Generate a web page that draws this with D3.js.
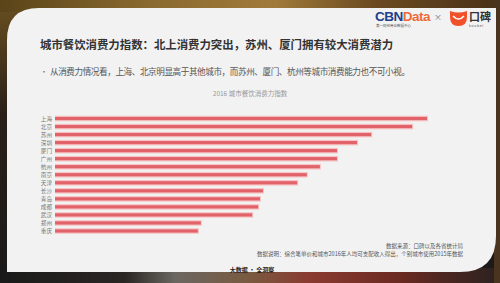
<!DOCTYPE html>
<html><head><meta charset="utf-8">
<script src="https://cdn.jsdelivr.net/npm/d3@7"></script>
<style>
html,body{margin:0;padding:0;background:#3a2c20;}
svg{display:block;font-family:"Noto Sans CJK SC","Noto Sans",sans-serif;}
</style></head>
<body>
<script>
const cities = ["上海","北京","苏州","深圳","厦门","广州","杭州","南京","天津","长沙","青岛","成都","武汉","郑州","重庆"];
const values = [100, 96, 85, 81.2, 75.8, 75.8, 71.2, 67.7, 65.1, 55.9, 55.1, 54.6, 53, 39.2, 38.4];
const title = "城市餐饮消费力指数：北上消费力突出，苏州、厦门拥有较大消费潜力";
const bullet = "从消费力情况看，上海、北京明显高于其他城市，而苏州、厦门、杭州等城市消费能力也不可小视。";
const chartTitle = "2016 城市餐饮消费力指数";
const notes = ["数据来源：口碑以及各省统计局","数据说明：综合笔单价和城市2016年人均可支配收入得出，个别城市使用2015年数据"];
const footer = "大数据 · 全洞察";

const W = 500, H = 283;
const svg = d3.select("body").append("svg").attr("width", W).attr("height", H);
const defs = svg.append("defs");

// background photo-like frame
const gTop = defs.append("linearGradient").attr("id","gtop").attr("x1",0).attr("x2",1);
[["0%","#5a4418"],["30%","#8a6a30"],["55%","#a07a3a"],["75%","#6a4a20"],["100%","#4a3018"]].forEach(s=>gTop.append("stop").attr("offset",s[0]).attr("stop-color",s[1]));
const gBot = defs.append("linearGradient").attr("id","gbot").attr("x1",0).attr("x2",1);
[["0%","#1a1a1a"],["25%","#2a2624"],["35%","#6a6660"],["50%","#7a5a40"],["62%","#8a3a30"],["80%","#6a2a22"],["100%","#2a2220"]].forEach(s=>gBot.append("stop").attr("offset",s[0]).attr("stop-color",s[1]));
const gSide = defs.append("linearGradient").attr("id","gside").attr("x1",0).attr("x2",0).attr("y1",0).attr("y2",1);
[["0%","#6a5020"],["40%","#2a2018"],["100%","#1a1a1a"]].forEach(s=>gSide.append("stop").attr("offset",s[0]).attr("stop-color",s[1]));

svg.append("rect").attr("width",W).attr("height",H).attr("fill","url(#gside)");
svg.append("rect").attr("width",W).attr("height",12).attr("fill","url(#gtop)");
svg.append("rect").attr("y",268).attr("width",W).attr("height",15).attr("fill","url(#gbot)");
svg.append("rect").attr("x",494).attr("y",0).attr("width",6).attr("height",H).attr("fill","#4a3420");

// card with rounded top-left and bottom-right corners
const cx0 = 7, cy0 = 8, cx1 = 496, cy1 = 272, r1 = 32, r2 = 36;
svg.append("path")
  .attr("d", `M${cx0},${cy0+r1} Q${cx0},${cy0} ${cx0+r1},${cy0} L${cx1},${cy0} L${cx1},${cy1-r2} Q${cx1},${cy1} ${cx1-r2},${cy1} L${cx0},${cy1} Z`)
  .attr("fill","#f2f2f2");

// logos
const logo = svg.append("g");
const cbn = logo.append("text").attr("x",375).attr("y",21).attr("font-family","Arial,'Liberation Sans',sans-serif")
  .attr("font-weight","bold").attr("font-size",13.5).attr("letter-spacing",-0.5);
cbn.append("tspan").attr("fill","#1d3f8f").text("CBN");
cbn.append("tspan").attr("fill","#ef6a3a").text("Data");
logo.append("text").attr("x",376).attr("y",27).attr("font-size",3.5).attr("fill","#555").text("第一财经商业数据中心");
logo.append("text").attr("x",438).attr("y",20).attr("text-anchor","middle").attr("font-size",8).attr("fill","#777").text("×");
logo.append("path").attr("d","M450,11 Q458.5,14 467,11 L467,17 Q467,26 458.5,26 Q450,26 450,17 Z").attr("fill","#f0502a");
logo.append("path").attr("d","M453,16 Q458.5,22 464,16").attr("fill","none").attr("stroke","#fff").attr("stroke-width",1.6);
logo.append("text").attr("x",469).attr("y",21).attr("font-size",11).attr("font-weight","bold").attr("fill","#333").text("口碑");
logo.append("text").attr("x",469).attr("y",27).attr("font-size",3.5).attr("fill","#555").attr("letter-spacing",0.6).text("koubei");

// title texts
svg.append("text").attr("x",40).attr("y",49).attr("font-size",11.4).attr("font-weight","bold").attr("fill","#333").text(title);
svg.append("text").attr("x",40).attr("y",75).attr("font-size",8).attr("fill","#777").text("•");
svg.append("text").attr("x",50).attr("y",75).attr("font-size",8.6).attr("fill","#555").attr("textLength",360).text(bullet);
svg.append("text").attr("x",250).attr("y",95.5).attr("text-anchor","middle").attr("font-size",6.5).attr("fill","#999").text(chartTitle);

// chart
const x = d3.scaleLinear().domain([0,100]).range([55,427]);
const y = d3.scaleBand().domain(cities).range([114.5,235]).paddingInner(0);
const bars = svg.append("g");
const rows = bars.selectAll("g").data(cities).join("g")
  .attr("transform", d=>`translate(0,${y(d)+y.bandwidth()/2})`);
rows.append("rect").attr("x",x(0)).attr("y",-2.8).attr("height",5.6)
  .attr("width",(d,i)=>x(values[i])-x(0)+1).attr("fill","#f6c4c4");
rows.append("rect").attr("x",x(0)).attr("y",-1.6).attr("height",3.2)
  .attr("width",(d,i)=>x(values[i])-x(0)).attr("fill","#e2626a");
rows.append("text").attr("x",52).attr("y",2).attr("text-anchor","end").attr("font-size",5.6).attr("fill","#777").text(d=>d);

// notes
svg.append("text").attr("x",463).attr("y",248).attr("text-anchor","end").attr("font-size",5.5).attr("fill","#555").text(notes[0]);
svg.append("text").attr("x",463).attr("y",256).attr("text-anchor","end").attr("font-size",5.5).attr("fill","#555").text(notes[1]);
svg.append("text").attr("x",252).attr("y",272).attr("text-anchor","middle").attr("font-size",6).attr("font-weight","bold").attr("fill","#222").text(footer);
</script>
</body></html>
